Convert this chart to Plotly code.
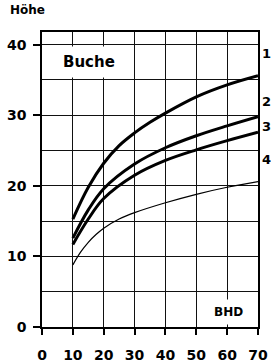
import plotly.graph_objects as go

bhd_1 = [10, 15, 20, 25, 30, 35, 40, 50, 60, 70]
hoehe_1 = [15.3, 19.8, 23.2, 25.7, 27.5, 29.0, 30.3, 32.6, 34.3, 35.6]
bhd_2 = [10, 15, 20, 30, 40, 50, 60, 70]
hoehe_2 = [12.6, 16.6, 19.6, 23.1, 25.4, 27.1, 28.5, 29.8]
bhd_3 = [10, 15, 20, 30, 40, 50, 60, 70]
hoehe_3 = [11.7, 15.3, 18.2, 21.5, 23.6, 25.1, 26.4, 27.6]
bhd_4 = [10, 12.5, 15, 17.5, 20, 25, 30, 40, 50, 60, 70]
hoehe_4 = [8.8, 10.6, 12.0, 13.1, 14.0, 15.3, 16.2, 17.6, 18.8, 19.8, 20.6]

series = [("1", bhd_1, hoehe_1, 3), ("2", bhd_2, hoehe_2, 3),
          ("3", bhd_3, hoehe_3, 3), ("4", bhd_4, hoehe_4, 1.2)]
label_y = [38.8, 31.9, 28.4, 23.7]

x_ticks = [0, 10, 20, 30, 40, 50, 60, 70]
y_ticks = [0, 10, 20, 30, 40]

FONT = "DejaVu Sans"

fig = go.Figure()
for name, xs, vals, w in series:
    fig.add_trace(go.Scatter(x=xs, y=vals, mode="lines", name=name,
                             line=dict(color="black", width=w, shape="spline", smoothing=1.0),
                             showlegend=False, hoverinfo="skip"))

for (name, _, _, _), ly in zip(series, label_y):
    fig.add_annotation(x=1.0125, xref="paper", y=ly, yref="y", text=name, showarrow=False,
                       xanchor="left", yanchor="middle", borderpad=0,
                       font=dict(family=FONT, size=13, color="black", weight="bold"))

fig.add_annotation(x=15.3, y=37.6, xref="x", yref="y", text="Buche", showarrow=False,
                   bgcolor="white", borderpad=6,
                   font=dict(family=FONT, size=15, color="black", weight="bold"))
fig.add_annotation(x=60.4, y=2.1, xref="x", yref="y", text="BHD", showarrow=False,
                   bgcolor="white", borderpad=5,
                   font=dict(family=FONT, size=12, color="black", weight="bold"))
fig.add_annotation(x=-0.157, y=1.075, xref="paper", yref="paper",
                   text="Höhe", showarrow=False, xanchor="left", yanchor="middle",
                   font=dict(family=FONT, size=12, color="black", weight="bold"))

fig.update_layout(
    width=271, height=364,
    margin=dict(l=42, r=13, t=32, b=37, autoexpand=False),
    paper_bgcolor="white", plot_bgcolor="white",
    xaxis=dict(range=[0, 70], tickvals=x_ticks, ticktext=[str(v) for v in x_ticks],
               automargin=False,
               showgrid=True, gridcolor="#111", gridwidth=1,
               showline=True, linecolor="black", linewidth=2, mirror=True,
               ticks="outside", ticklen=6, tickcolor="black", tickwidth=1.5,
               ticklabelstandoff=8, zeroline=False,
               tickfont=dict(family=FONT, size=14, color="black", weight="bold")),
    yaxis=dict(range=[0, 41.8], tickvals=y_ticks, ticktext=[str(v) for v in y_ticks],
               automargin=False,
               showgrid=True, gridcolor="#111", gridwidth=1,
               minor=dict(dtick=5, tick0=0, showgrid=True, gridcolor="#111", gridwidth=1),
               showline=True, linecolor="black", linewidth=1.5, mirror=True,
               ticks="outside", ticklen=7, tickcolor="black", tickwidth=1.5,
               ticklabelstandoff=4, zeroline=False,
               tickfont=dict(family=FONT, size=14, color="black", weight="bold")),
)

fig.write_html("out.html", config={"displayModeBar": False},
               post_script="document.body.style.margin='0';document.body.style.padding='0';")
